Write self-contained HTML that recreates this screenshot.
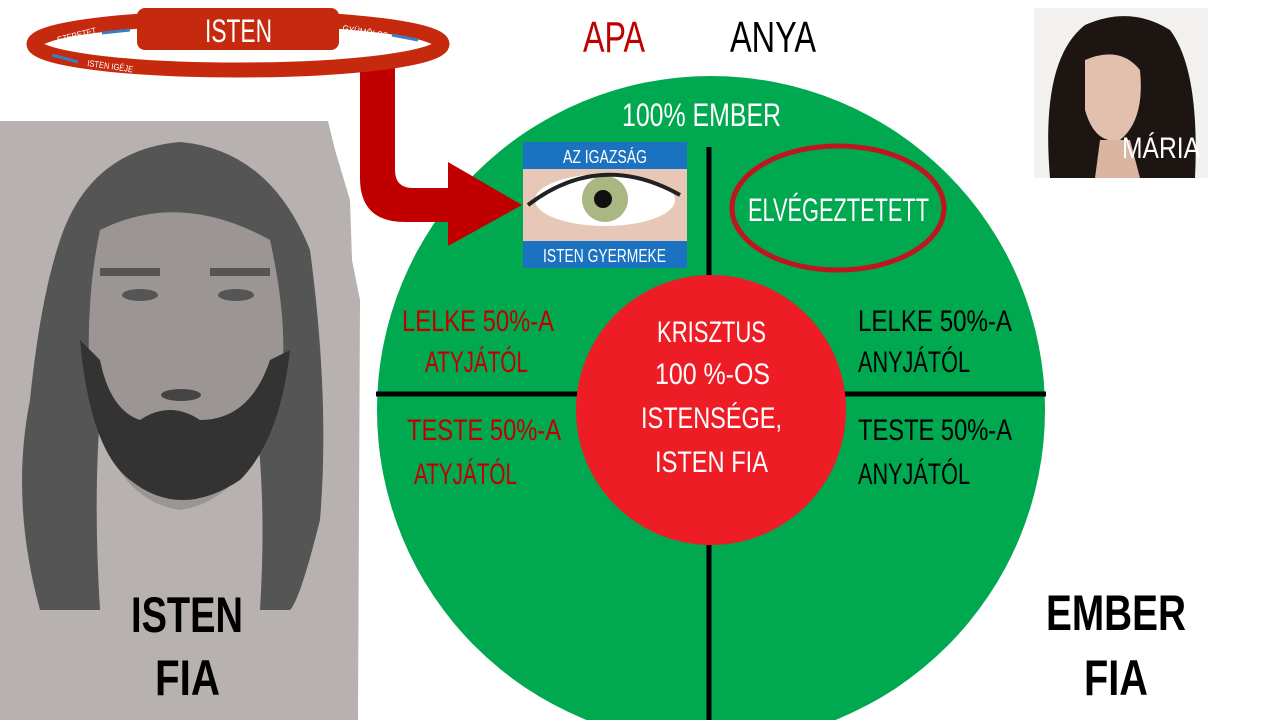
<!DOCTYPE html>
<html><head><meta charset="utf-8"><style>
html,body{margin:0;padding:0;background:#fff;}
svg{display:block}
text{font-family:"Liberation Sans",sans-serif;}
</style></head><body>
<svg width="1280" height="720" viewBox="0 0 1280 720" xmlns="http://www.w3.org/2000/svg">
<path d="M0,121 L328,121 L335,150 L350,200 L352,260 L360,300 L358,720 L0,720 Z" fill="#b7b2af"/>
<path d="M60,240 Q90,150 180,142 Q270,150 310,250 Q330,400 320,520 Q300,600 290,610 L260,610 Q270,450 240,330 Q200,250 180,250 Q140,260 110,330 Q90,450 100,610 L40,610 Q10,500 30,400 Q40,300 60,240Z" fill="#555"/>
<path d="M100,230 Q180,190 270,240 Q290,330 280,390 Q250,500 180,510 Q110,500 90,390 Q85,300 100,230Z" fill="#9b9593"/>
<path d="M80,340 Q90,450 130,480 Q180,520 240,480 Q280,440 290,350 L270,360 Q250,420 200,420 Q170,400 140,420 Q110,410 100,360Z" fill="#333"/>
<ellipse cx="181" cy="395" rx="20" ry="6" fill="#444"/>
<ellipse cx="140" cy="295" rx="18" ry="6" fill="#555"/>
<ellipse cx="236" cy="295" rx="18" ry="6" fill="#555"/>
<rect x="100" y="268" width="60" height="8" fill="#555"/>
<rect x="210" y="268" width="60" height="8" fill="#555"/>
<text x="131" y="632" font-size="50" font-weight="bold" fill="#000" textLength="112" lengthAdjust="spacingAndGlyphs">ISTEN</text>
<text x="155" y="695" font-size="50" font-weight="bold" fill="#000" textLength="65" lengthAdjust="spacingAndGlyphs">FIA</text>

<circle cx="711" cy="410" r="334" fill="#00a84f"/>
<line x1="376" y1="394" x2="1046" y2="394" stroke="#000" stroke-width="5"/>
<line x1="709" y1="147" x2="709" y2="720" stroke="#000" stroke-width="5"/>
<circle cx="711" cy="410" r="135" fill="#ee1c25"/>

<path d="M360,58 L395,58 L395,170 Q395,188 413,188 L448,188 L448,162 L522,205 L448,246 L448,222 L405,222 Q360,222 360,178 Z" fill="#c00000"/>
<ellipse cx="238" cy="44" rx="204" ry="26" fill="none" stroke="#c52a0e" stroke-width="15"/>
<rect x="137" y="8" width="202" height="42" rx="8" fill="#c52a0e"/>
<text x="205" y="42" font-size="32" fill="#fff" textLength="67" lengthAdjust="spacingAndGlyphs">ISTEN</text>
<text x="58" y="43" font-size="9" fill="#fff" transform="rotate(-14 58 43)" textLength="40" lengthAdjust="spacingAndGlyphs">SZERETET</text>
<text x="342" y="31" font-size="9" fill="#fff" transform="rotate(10 342 31)" textLength="46" lengthAdjust="spacingAndGlyphs">GYÜMÖLCS</text>
<text x="87" y="66" font-size="9" fill="#fff" transform="rotate(8 87 66)" textLength="46" lengthAdjust="spacingAndGlyphs">ISTEN IGÉJE</text>
<path d="M102,33 L130,30" stroke="#3b7dc4" stroke-width="3"/>
<path d="M392,35 L418,40" stroke="#3b7dc4" stroke-width="3"/>
<path d="M52,55 L78,62" stroke="#3b7dc4" stroke-width="3"/>

<text x="583" y="52" font-size="44" fill="#c00000" textLength="62" lengthAdjust="spacingAndGlyphs">APA</text>
<text x="730" y="52" font-size="44" fill="#000" textLength="86" lengthAdjust="spacingAndGlyphs">ANYA</text>
<text x="622" y="126" font-size="32" fill="#fff" textLength="159" lengthAdjust="spacingAndGlyphs">100% EMBER</text>

<rect x="523" y="142" width="164" height="126" fill="#e7c8b8"/>
<ellipse cx="605" cy="200" rx="70" ry="26" fill="#fff"/>
<circle cx="605" cy="199" r="23" fill="#a9b883"/>
<circle cx="603" cy="199" r="9" fill="#111"/>
<path d="M528,205 Q600,150 680,195" stroke="#222" stroke-width="4" fill="none"/>
<rect x="523" y="142" width="164" height="27" fill="#1a72c0"/>
<rect x="523" y="241" width="164" height="27" fill="#1a72c0"/>
<text x="563" y="163" font-size="18" fill="#fff" textLength="84" lengthAdjust="spacingAndGlyphs">AZ IGAZSÁG</text>
<text x="543" y="262" font-size="18" fill="#fff" textLength="123" lengthAdjust="spacingAndGlyphs">ISTEN GYERMEKE</text>

<ellipse cx="838" cy="208" rx="106" ry="62" fill="none" stroke="#c0141e" stroke-width="5"/>
<text x="748" y="221" font-size="32" fill="#fff" textLength="181" lengthAdjust="spacingAndGlyphs">ELVÉGEZTETETT</text>

<g font-size="30" fill="#c00000">
<text x="402" y="331" textLength="152" lengthAdjust="spacingAndGlyphs">LELKE 50%-A</text>
<text x="425" y="372" textLength="103" lengthAdjust="spacingAndGlyphs">ATYJÁTÓL</text>
<text x="407" y="440" textLength="154" lengthAdjust="spacingAndGlyphs">TESTE 50%-A</text>
<text x="414" y="484" textLength="103" lengthAdjust="spacingAndGlyphs">ATYJÁTÓL</text>
</g>
<g font-size="30" fill="#000">
<text x="858" y="331" textLength="154" lengthAdjust="spacingAndGlyphs">LELKE 50%-A</text>
<text x="858" y="372" textLength="112" lengthAdjust="spacingAndGlyphs">ANYJÁTÓL</text>
<text x="858" y="440" textLength="154" lengthAdjust="spacingAndGlyphs">TESTE 50%-A</text>
<text x="858" y="484" textLength="112" lengthAdjust="spacingAndGlyphs">ANYJÁTÓL</text>
</g>
<g font-size="30" fill="#fff">
<text x="657" y="342" textLength="109" lengthAdjust="spacingAndGlyphs">KRISZTUS</text>
<text x="655" y="384" textLength="115" lengthAdjust="spacingAndGlyphs">100 %-OS</text>
<text x="641" y="428" textLength="141" lengthAdjust="spacingAndGlyphs">ISTENSÉGE,</text>
<text x="655" y="472" textLength="113" lengthAdjust="spacingAndGlyphs">ISTEN FIA</text>
</g>

<rect x="1034" y="8" width="174" height="170" fill="#f3f1ef"/>
<path d="M1050,178 Q1040,60 1085,25 Q1130,5 1170,30 Q1200,70 1195,178 Z" fill="#1c1512"/>
<path d="M1085,60 Q1120,45 1140,70 Q1145,120 1120,140 Q1095,145 1085,110 Z" fill="#e2c0ad"/>
<path d="M1100,140 L1130,140 L1140,178 L1095,178Z" fill="#d9b5a2"/>
<text x="1122" y="158" font-size="30" fill="#fff" textLength="78" lengthAdjust="spacingAndGlyphs">MÁRIA</text>

<text x="1046" y="630" font-size="50" font-weight="bold" fill="#000" textLength="140" lengthAdjust="spacingAndGlyphs">EMBER</text>
<text x="1084" y="695" font-size="50" font-weight="bold" fill="#000" textLength="64" lengthAdjust="spacingAndGlyphs">FIA</text>
</svg>
</body></html>
